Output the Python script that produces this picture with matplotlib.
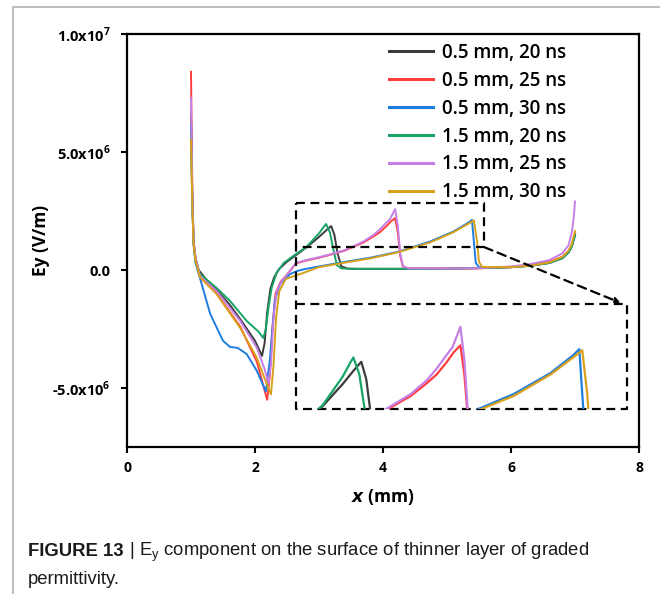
import matplotlib
matplotlib.use("Agg")
import matplotlib.pyplot as plt
from matplotlib.lines import Line2D
import numpy as np

# ---------------- data (x in mm, Ey in 1e6 V/m) ----------------
labels = ["0.5 mm, 20 ns", "0.5 mm, 25 ns", "0.5 mm, 30 ns",
          "1.5 mm, 20 ns", "1.5 mm, 25 ns", "1.5 mm, 30 ns"]
colors = ["#3c3c3c", "#ff3d3d", "#1f7de0", "#18a466", "#c67fe6", "#d8a11c"]

x_black = [1.00, 1.02, 1.04, 1.07, 1.12, 1.25, 1.40, 1.60, 1.80, 2.00, 2.11, 2.15, 2.19, 2.24,
           2.30, 2.38, 2.50, 2.65, 2.80, 3.00, 3.12, 3.19, 3.24, 3.29, 3.35, 3.45, 3.60, 4.00,
           4.50, 5.00, 5.50, 6.00, 6.30, 6.60, 6.80, 6.90, 6.95, 7.00]
y_black = [6.5, 3.0, 1.2, 0.5, 0.0, -0.45, -0.85, -1.45, -2.2, -3.0, -3.64, -3.1, -1.8, -0.8,
           -0.3, 0.05, 0.35, 0.65, 0.95, 1.40, 1.70, 1.86, 1.5, 0.7, 0.15, 0.06, 0.05, 0.05,
           0.05, 0.06, 0.08, 0.12, 0.18, 0.30, 0.50, 0.75, 1.00, 1.50]

x_red = [1.00, 1.02, 1.04, 1.07, 1.14, 1.40, 1.77, 2.03, 2.12, 2.19, 2.23, 2.27, 2.32, 2.40,
         2.50, 2.64, 2.80, 3.00, 3.17, 3.40, 3.69, 3.85, 3.95, 4.05, 4.12, 4.19, 4.23, 4.27,
         4.31, 4.40, 5.00, 5.50, 6.00, 6.30, 6.60, 6.80, 6.90, 6.95, 7.00]
y_red = [8.4, 3.5, 1.3, 0.5, -0.3, -1.0, -2.4, -3.9, -4.8, -5.5, -4.5, -2.5, -1.0, -0.5,
         -0.2, 0.28, 0.40, 0.52, 0.64, 0.82, 1.16, 1.42, 1.60, 1.85, 2.05, 2.20, 1.6, 0.6,
         0.15, 0.07, 0.06, 0.07, 0.12, 0.20, 0.35, 0.55, 0.80, 1.05, 1.55]

x_blue = [1.00, 1.02, 1.04, 1.07, 1.14, 1.30, 1.50, 1.61, 1.73, 1.87, 2.03, 2.17, 2.23, 2.31,
          2.39, 2.55, 2.66, 2.80, 3.00, 3.44, 3.80, 4.22, 4.73, 5.10, 5.33, 5.39, 5.42, 5.45,
          5.50, 6.00, 6.30, 6.60, 6.80, 6.90, 6.95, 7.00]
y_blue = [6.2, 3.0, 1.1, 0.3, -0.34, -1.86, -3.0, -3.26, -3.3, -3.56, -4.28, -5.15, -3.86, -1.3,
          -0.6, -0.17, -0.04, 0.05, 0.15, 0.36, 0.52, 0.76, 1.20, 1.63, 2.00, 2.12, 1.2, 0.3,
          0.12, 0.12, 0.18, 0.30, 0.50, 0.75, 1.00, 1.45]

x_green = [1.00, 1.02, 1.04, 1.07, 1.14, 1.40, 1.61, 1.87, 2.05, 2.13, 2.17, 2.21, 2.26, 2.34,
           2.45, 2.60, 2.80, 3.00, 3.08, 3.11, 3.17, 3.23, 3.28, 3.35, 3.50, 4.00, 4.50, 5.00,
           5.50, 6.00, 6.30, 6.60, 6.80, 6.90, 6.95, 7.00]
y_green = [5.8, 2.8, 1.1, 0.4, -0.17, -0.76, -1.31, -2.16, -2.6, -2.88, -2.5, -1.6, -0.76, -0.1,
           0.3, 0.6, 0.97, 1.55, 1.85, 1.95, 1.6, 0.8, 0.2, 0.07, 0.05, 0.05, 0.05, 0.05,
           0.08, 0.12, 0.18, 0.30, 0.50, 0.75, 1.00, 1.50]

x_purple = [1.00, 1.02, 1.04, 1.07, 1.14, 1.40, 1.77, 2.03, 2.15, 2.21, 2.25, 2.29, 2.34, 2.42,
            2.50, 2.64, 2.80, 3.00, 3.17, 3.40, 3.69, 3.85, 3.95, 4.05, 4.11, 4.19, 4.23, 4.27,
            4.31, 4.40, 5.00, 5.50, 6.00, 6.30, 6.60, 6.80, 6.90, 6.95, 6.98, 7.00]
y_purple = [7.3, 3.3, 1.2, 0.5, -0.25, -0.89, -2.16, -3.3, -4.2, -4.8, -4.0, -2.0, -0.9, -0.45,
            -0.2, 0.30, 0.42, 0.54, 0.66, 0.84, 1.20, 1.48, 1.72, 2.00, 2.16, 2.58, 1.9, 0.7,
            0.15, 0.07, 0.06, 0.08, 0.15, 0.25, 0.42, 0.70, 1.05, 1.60, 2.20, 2.90]

x_orange = [1.00, 1.02, 1.04, 1.07, 1.14, 1.40, 1.77, 2.03, 2.15, 2.25, 2.29, 2.33, 2.38, 2.48,
            2.75, 3.00, 3.44, 3.80, 4.22, 4.73, 5.10, 5.36, 5.42, 5.47, 5.50, 5.55, 6.00, 6.30,
            6.60, 6.80, 6.90, 6.95, 7.00]
y_orange = [5.5, 2.8, 1.1, 0.4, -0.3, -1.02, -2.46, -3.73, -4.6, -5.27, -4.0, -2.0, -0.9, -0.38,
            -0.13, 0.12, 0.33, 0.49, 0.74, 1.16, 1.60, 2.00, 2.10, 1.2, 0.35, 0.13, 0.12, 0.18,
            0.32, 0.55, 0.82, 1.10, 1.65]

series_x = [x_black, x_red, x_blue, x_green, x_purple, x_orange]
series_y = [y_black, y_red, y_blue, y_green, y_purple, y_orange]

x_ticks = [0, 2, 4, 6, 8]
y_ticks = [1.0e7, 5.0e6, 0.0, -5.0e6]
y_ticklabels = [r"1.0x10$^\mathregular{7}$", r"5.0x10$^\mathregular{6}$", "0.0",
                r"-5.0x10$^\mathregular{6}$"]

# small dashed box, big dashed box, and the region shown magnified in the big box
zoom_x = (2.64, 5.58)
zoom_y = (0.97e6, 2.84e6)
inset_x = (2.64, 7.81)
inset_y = (-5.89e6, -1.44e6)
view_x = (2.53, 5.87)
view_y = (0.89e6, 3.05e6)

caption_bold = "FIGURE 13"
caption_rest = r" | E$_\mathregular{y}$ component on the surface of thinner layer of graded"
caption_line2 = "permittivity."

# ---------------- figure ----------------
W, H = 660, 594
fig = plt.figure(figsize=(W / 100, H / 100), dpi=100)
fig.patch.set_facecolor("white")

ax = fig.add_axes([127 / W, 1 - 447 / H, 512 / W, 413 / H])
ax.set_xlim(0, 8)
ax.set_ylim(-7.5e6, 1.0e7)

tick_font = {"family": "Open Sans", "weight": "bold", "size": 10}
for xs, ys, c, lab in zip(series_x, series_y, colors, labels):
    ax.plot(xs, np.array(ys) * 1e6, color=c, lw=1.4, label=lab, solid_joinstyle="round")

ax.set_xticks(x_ticks)
ax.set_xticklabels([str(t) for t in x_ticks], fontdict=tick_font)
ax.set_yticks(y_ticks)
ax.set_yticklabels(y_ticklabels, fontdict=dict(tick_font, size=10.5))
ax.tick_params(axis="x", direction="out", length=4, width=1.5, pad=6, top=False)
ax.tick_params(axis="y", direction="out", length=4, width=1.5, pad=8, right=False)
for s in ax.spines.values():
    s.set_linewidth(1.6)
    s.set_color("black")

ax.set_xlabel(r"$\mathbfit{x}$ (mm)", fontfamily="Open Sans", fontweight="bold", fontsize=12.5)
ax.set_ylabel("Ey (V/m)", fontfamily="Open Sans", fontweight="bold", fontsize=12.5)
ax.xaxis.label.set_va("center")
ax.xaxis.set_label_coords(0.5, (447 - 497) / 413)
ax.yaxis.label.set_va("center")
ax.yaxis.set_label_coords((41 - 127) / 512, 0.5)

leg = ax.legend(loc="upper left", bbox_to_anchor=((389 - 127) / 512, (447 - 43) / 413),
                frameon=False,
                prop={"family": "Open Sans", "weight": "semibold", "size": 13.5},
                handlelength=2.35, handletextpad=0.5, labelspacing=0.42, borderpad=0,
                borderaxespad=0)
for h in leg.get_lines():
    h.set_linewidth(2.2)

# inset (magnified copy)
ins = ax.inset_axes([inset_x[0], inset_y[0], inset_x[1] - inset_x[0], inset_y[1] - inset_y[0]],
                    transform=ax.transData)
for xs, ys, c in zip(series_x, series_y, colors):
    ins.plot(xs, np.array(ys) * 1e6, color=c, lw=1.6)
ins.set_xlim(*view_x)
ins.set_ylim(*view_y)
ins.axis("off")
ins.patch.set_alpha(0)

dash = dict(color="black", lw=1.6, ls=(0, (4, 2.5)))
ax.plot([zoom_x[0], zoom_x[1], zoom_x[1], zoom_x[0], zoom_x[0]],
        [zoom_y[1], zoom_y[1], zoom_y[0], zoom_y[0], zoom_y[1]], **dash)
ax.plot([inset_x[0], inset_x[1], inset_x[1], inset_x[0], inset_x[0], inset_x[0]],
        [inset_y[1], inset_y[1], inset_y[0], inset_y[0], inset_y[1], zoom_y[0]], **dash)
ax.annotate("", xy=(inset_x[1] - 0.1, inset_y[1] + 0.05e6), xytext=(zoom_x[1], zoom_y[0]),
            arrowprops=dict(arrowstyle="-|>", color="black", lw=1.6, ls=(0, (4, 2.5)),
                            mutation_scale=8, shrinkA=0, shrinkB=0))

# figure border
fig.add_artist(Line2D([12.5 / W, 1], [1 - 6.5 / H, 1 - 6.5 / H], color="#bdbdbd", lw=1.5))
fig.add_artist(Line2D([12.5 / W, 12.5 / W], [0, 1 - 6.5 / H], color="#bdbdbd", lw=1.5))

# caption
cap_font = ["Liberation Sans", "DejaVu Sans"]
cap_size = 13.3
t1 = fig.text(28 / W, 1 - 552 / H, caption_bold, family=cap_font, weight="bold",
              fontsize=cap_size, va="center", ha="left", color="#1a1a1a")
fig.canvas.draw()
bb = t1.get_window_extent()
fig.text(bb.x1 / W, 1 - 552 / H, caption_rest, family=cap_font, fontsize=cap_size,
         va="center", ha="left", color="#1a1a1a")
fig.text(28 / W, 1 - 580 / H, caption_line2, family=cap_font, fontsize=cap_size,
         va="center", ha="left", color="#1a1a1a")

fig.savefig("out.png", dpi=100)
